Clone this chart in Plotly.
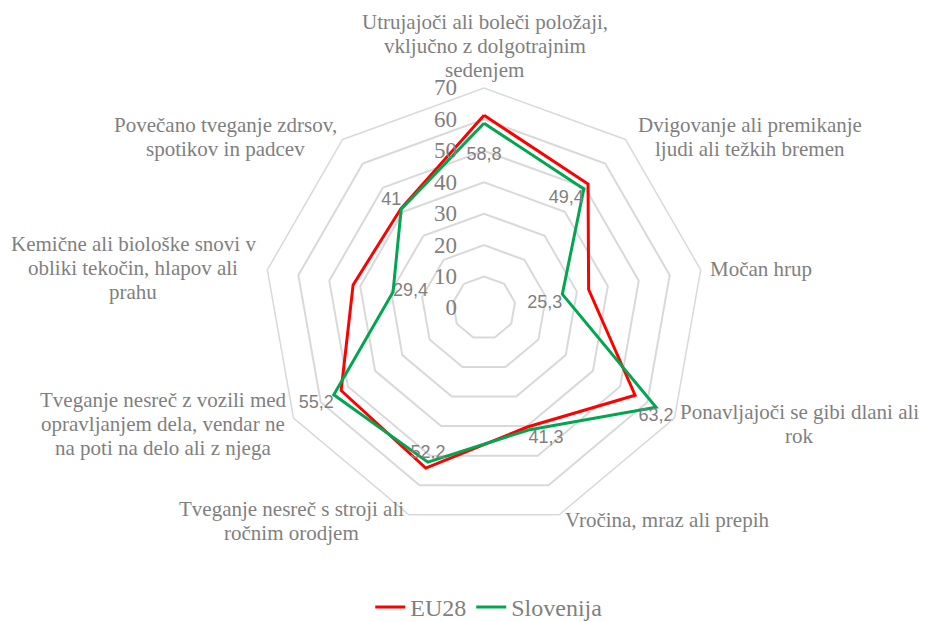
import plotly.graph_objects as go

categories = [
    "Utrujajoči ali boleči položaji,<br>vključno z dolgotrajnim<br>sedenjem",
    "Dvigovanje ali premikanje<br>ljudi ali težkih bremen",
    "Močan hrup",
    "Ponavljajoči se gibi dlani ali<br>rok",
    "Vročina, mraz ali prepih",
    "Tveganje nesreč s stroji ali<br>ročnim orodjem",
    "Tveganje nesreč z vozili med<br>opravljanjem dela, vendar ne<br>na poti na delo ali z njega",
    "Kemične ali biološke snovi v<br>obliki tekočin, hlapov ali<br>prahu",
    "Povečano tveganje zdrsov,<br>spotikov in padcev",
]
eu28 = [61.3, 51.5, 33.8, 55.5, 40.3, 54.2, 52.5, 42.3, 41.2]
slovenija = [58.8, 49.4, 25.3, 63.2, 41.3, 52.2, 55.2, 29.4, 41.0]
slo_labels = ["<br>58,8", "49,4", "25,3", "63,2", "41,3", "52,2", "55,2", "29,4", "41"]
label_pos = ["bottom center", "bottom left", "bottom left", "bottom center",
             "bottom right", "top center", "bottom left", "middle right", "top left"]
radial_ticks = [0, 10, 20, 30, 40, 50, 60, 70]

# layout: caption block centres on the page (screen pixels)
caption_xy = [(485, 46), (750, 137), (761, 269), (799, 424), (667, 520),
              (291, 521), (163, 424), (133, 268), (225, 137)]
LINE = 24  # caption line spacing, px

W, H = 929, 622
PAGE = 8  # default page margin of the HTML body
GRAY = "#7f7f7f"
GRID = "#d9d9d9"
SERIF = "Liberation Serif, serif"
SANS = "Liberation Sans, Arial, sans-serif"

def closed(v):
    return list(v) + [v[0]]

fig = go.Figure()
fig.add_trace(go.Scatterpolar(
    r=closed(eu28), theta=closed(categories), mode="lines", name="EU28",
    line=dict(color="#ff0000", width=3),
))
fig.add_trace(go.Scatterpolar(
    r=closed(slovenija), theta=closed(categories), mode="lines", name="Slovenija",
    line=dict(color="#00a650", width=3),
))
fig.add_trace(go.Scatterpolar(
    r=slovenija, theta=categories, mode="text", text=slo_labels,
    textposition=label_pos, showlegend=False, hoverinfo="skip",
    textfont=dict(family=SANS, size=18, color=GRAY),
))

for cat, (px, py) in zip(categories, caption_xy):
    lines = cat.split("<br>")
    n = len(lines)
    for i, ln in enumerate(lines):
        ly = py + (i - (n - 1) / 2) * LINE
        fig.add_annotation(
            text=ln, xref="paper", yref="paper",
            x=(px - PAGE) / W, y=1 - (ly - PAGE) / H,
            xanchor="center", yanchor="middle", align="center", showarrow=False,
            borderpad=0,
            font=dict(family=SERIF, size=21, color=GRAY),
        )

hidden = "<span style='color:rgba(0,0,0,0)'>00</span>"
fig.update_layout(
    width=W, height=H,
    margin=dict(l=0, r=0, t=0, b=0),
    paper_bgcolor="white",
    font=dict(family=SERIF, color=GRAY),
    polar=dict(
        domain=dict(x=[0.2756, 0.7492], y=[0.1640, 0.8714]),
        bgcolor="white",
        gridshape="linear",
        angularaxis=dict(
            direction="clockwise", rotation=90,
            showline=True, linecolor=GRID, linewidth=1.5,
            showgrid=False, ticks="", showticklabels=False,
        ),
        radialaxis=dict(
            range=[0, 70], tickvals=radial_ticks,
            ticktext=[f"{v}{hidden}" for v in radial_ticks],
            angle=90, tickangle=90, side="counterclockwise",
            showline=False, ticks="",
            gridcolor=GRID, gridwidth=1.5,
            tickfont=dict(family=SERIF, size=23, color=GRAY),
        ),
    ),
    legend=dict(
        orientation="h", x=0.518, xanchor="center", y=0.0, yanchor="bottom",
        font=dict(family=SERIF, size=24, color=GRAY),
    ),
)

fig.write_html("out.html")
